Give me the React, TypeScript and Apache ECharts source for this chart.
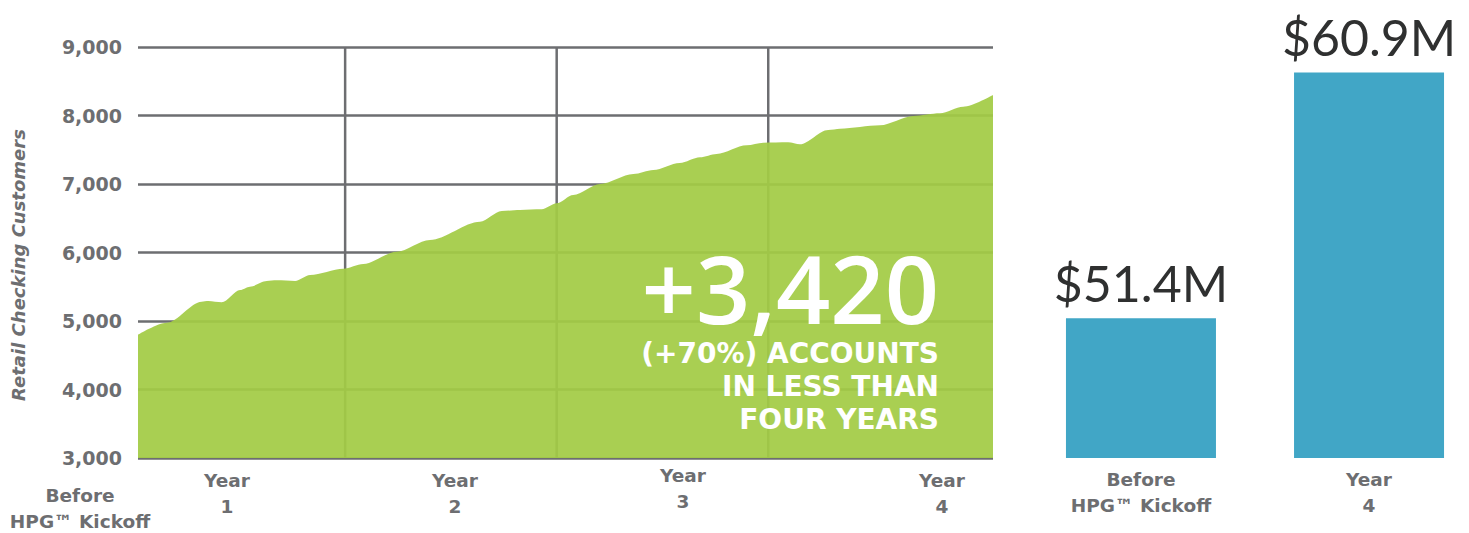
import React, { useEffect, useRef } from "react";
import * as echarts from "echarts";

// ---- data ----
const months = [0.25, 1.88, 3.86, 4.24, 5.0, 6.04, 6.6, 7.55, 8.12, 9.16, 10.01, 11.9, 13.03, 14.92, 16.81, 19.65, 20.88, 21.92, 23.15, 24.0, 24.94, 26.46, 28.35, 29.48, 30.98, 32.13, 33.07, 34.78, 35.72, 37.13, 37.8, 39.4, 40.07, 42.34, 44.23, 45.74, 47.06, 48.75];
const customers = [4800, 4975, 5282, 5292, 5273, 5453, 5501, 5584, 5594, 5584, 5672, 5764, 5832, 6012, 6183, 6450, 6606, 6621, 6631, 6719, 6840, 7000, 7146, 7205, 7307, 7390, 7438, 7565, 7603, 7609, 7580, 7789, 7808, 7857, 7993, 8033, 8129, 8300];
const yearBoundaries = [12, 24, 36];
const timelineLabels = ["Before\nHPG™ Kickoff", "Year\n1", "Year\n2", "Year\n3", "Year\n4"];
const barCategories = ["Before\nHPG™ Kickoff", "Year\n4"];
const depositValues = [51.4, 60.9];
const headline = "+3,420";
const subline = "(+70%) ACCOUNTS\nIN LESS THAN\nFOUR YEARS";
const yAxisTitle = "Retail Checking Customers";
const Y_MIN = 3000;
const Y_MAX = 9000;

// ---- layout ----
const timelinePos = [
  [80, 482],
  [227, 467],
  [455, 467],
  [683, 462],
  [942, 467],
];

const GREEN = "#a3cb45";
const BLUE = "#41a6c6";
const GRAY = "#6d6e71";
const LABEL_FONT = "'DejaVu Sans', Verdana, sans-serif";
const HEAD_FONT = "'Open Sans', Lato, sans-serif";
const NUM_FONT = "Lato, 'Open Sans', sans-serif";

export default function App() {
  const ref = useRef<HTMLDivElement>(null);
  useEffect(() => {
    if (!ref.current) return;
    const chart = echarts.init(ref.current, undefined, { renderer: "svg" });
    const graphics: any[] = timelineLabels.map((t, i) => ({
      type: "text",
      x: timelinePos[i][0],
      y: timelinePos[i][1],
      style: {
        text: t,
        textAlign: "center",
        textVerticalAlign: "top",
        fontFamily: LABEL_FONT,
        fontWeight: "bold",
        fontSize: 18.5,
        lineHeight: 26,
        fill: GRAY,
      },
    }));
    graphics.push({
      type: "text",
      x: 18,
      y: 265,
      rotation: Math.PI / 2,
      style: {
        text: yAxisTitle,
        textAlign: "center",
        textVerticalAlign: "middle",
        fontFamily: LABEL_FONT,
        fontStyle: "italic",
        fontWeight: "bold",
        fontSize: 18,
        fill: GRAY,
      },
    });
    graphics.push({
      type: "text",
      x: 939,
      y: 287,
      z: 10,
      style: {
        text: headline,
        textAlign: "right",
        textVerticalAlign: "middle",
        fontFamily: HEAD_FONT,
        fontWeight: 600,
        fontSize: 95,
        lineHeight: 76,
        fill: "#ffffff",
      },
    });
    graphics.push({
      type: "text",
      x: 939,
      y: 337,
      z: 10,
      style: {
        text: subline,
        textAlign: "right",
        textVerticalAlign: "top",
        fontFamily: LABEL_FONT,
        fontWeight: "bold",
        fontSize: 28,
        lineHeight: 33,
        fill: "#ffffff",
      },
    });

    // vertical year-boundary segments, broken by empty points
    const boundaryData: any[] = [];
    yearBoundaries.forEach((m, i) => {
      if (i > 0) boundaryData.push([m, "-"]);
      boundaryData.push([m, Y_MIN], [m, Y_MAX]);
    });

    chart.setOption({
      animation: false,
      backgroundColor: "#ffffff",
      textStyle: { fontFamily: LABEL_FONT },
      grid: [
        { left: 138, top: 47, width: 855, height: 411 },
        { left: 1060, top: 44, width: 390, height: 414 },
      ],
      xAxis: [
        {
          type: "value",
          gridIndex: 0,
          min: 0.25,
          max: 48.75,
          axisLine: { show: false },
          axisTick: { show: false },
          axisLabel: { show: false },
          splitLine: { show: false },
        },
        {
          type: "value",
          gridIndex: 1,
          min: -0.355,
          max: 1.355,
          axisLine: { show: false },
          axisTick: { show: false },
          splitLine: { show: false },
          axisLabel: {
            customValues: barCategories.map((_, i) => i),
            formatter: (v: number) => barCategories[Math.round(v)] ?? "",
            margin: 8,
            fontFamily: LABEL_FONT,
            fontWeight: "bold",
            fontSize: 18.5,
            lineHeight: 26,
            color: GRAY,
          },
        },
      ],
      yAxis: [
        {
          type: "value",
          gridIndex: 0,
          min: Y_MIN,
          max: Y_MAX,
          interval: 1000,
          axisLine: { show: false },
          axisTick: { show: false },
          axisLabel: {
            margin: 16,
            fontFamily: LABEL_FONT,
            fontWeight: "bold",
            fontSize: 19,
            color: GRAY,
            formatter: (v: number) => v.toLocaleString("en-US"),
          },
          splitLine: { show: true, lineStyle: { color: GRAY, width: 2.5 } },
        },
        {
          type: "value",
          gridIndex: 1,
          min: 46,
          max: 62,
          show: false,
          splitLine: { show: false },
        },
      ],
      series: [
        {
          type: "line",
          xAxisIndex: 0,
          yAxisIndex: 0,
          data: boundaryData,
          z: 1,
          silent: true,
          symbol: "none",
          connectNulls: false,
          lineStyle: { color: GRAY, width: 2.5 },
        },
        {
          type: "line",
          xAxisIndex: 0,
          yAxisIndex: 0,
          z: 3,
          data: months.map((m, i) => [m, customers[i]]),
          smooth: 0.3,
          smoothMonotone: "x",
          symbol: "none",
          lineStyle: { width: 0 },
          areaStyle: { color: GREEN, opacity: 0.93, origin: "start" },
        },
        {
          type: "bar",
          xAxisIndex: 1,
          yAxisIndex: 1,
          data: depositValues.map((v, i) => [i, v]),
          barWidth: 150,
          itemStyle: { color: BLUE },
          label: {
            show: true,
            position: "top",
            distance: 10,
            formatter: (p: any) => `$${p.value[1]}M`,
            fontFamily: NUM_FONT,
            fontWeight: "normal",
            fontSize: 50,
            color: "#2f3030",
          },
        },
      ],
      graphic: graphics,
    });
    return () => chart.dispose();
  }, []);
  return (
    <div
      ref={ref}
      style={{ position: "fixed", left: 0, top: 0, width: 1469, height: 533 }}
    />
  );
}
